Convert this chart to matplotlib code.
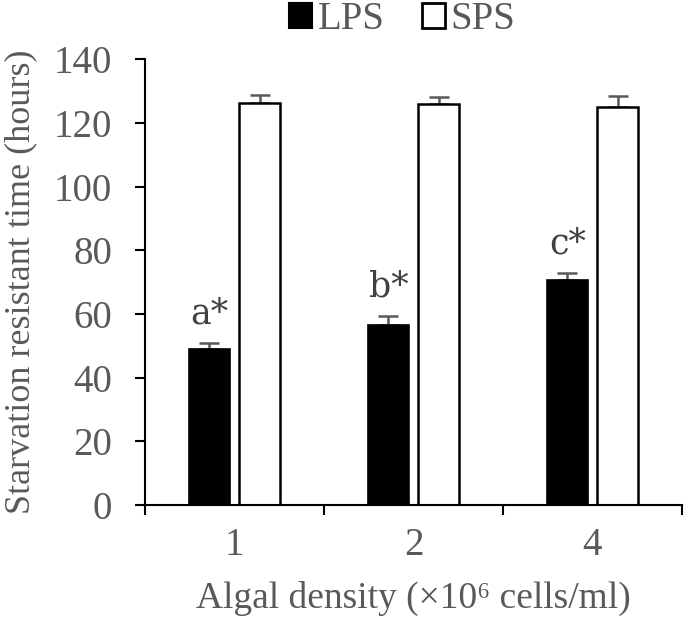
import matplotlib
matplotlib.use("Agg")
import matplotlib.pyplot as plt
import numpy as np
from matplotlib.patches import Patch

categories = ["1", "2", "4"]
lps = [48.9, 56.4, 70.6]
lps_err = [1.9, 2.8, 2.1]
sps = [126.3, 126.0, 124.9]
sps_err = [2.3, 2.1, 3.5]
letters = ["a*", "b*", "c*"]
yticks = [0, 20, 40, 60, 80, 100, 120, 140]

gray = "#595959"
plt.rcParams["font.family"] = ["Liberation Serif", "DejaVu Serif"]

fig = plt.figure(figsize=(6.85, 6.22), dpi=100)
ax = fig.add_axes([0.2117, 0.188, 0.7839, 0.717])

x = np.arange(len(categories))
w = 0.23
off = 0.14
ax.bar(x - off, lps, w, color="black", edgecolor="black", linewidth=1.2, zorder=2)
ax.bar(x + off, sps, w, color="white", edgecolor="black", linewidth=1.8, zorder=2)
ax.errorbar(x - off, lps, yerr=[[0] * 3, lps_err], fmt="none", ecolor=gray,
            elinewidth=1.8, capsize=7, capthick=1.8, zorder=1)
ax.errorbar(x + off, sps, yerr=[[0] * 3, sps_err], fmt="none", ecolor=gray,
            elinewidth=1.8, capsize=7, capthick=1.8, zorder=1)

for xi, v, e, t in zip(x, lps, lps_err, letters):
    ax.text(xi - off, v + e + 4.0, t, ha="center", va="bottom", fontsize=25,
            color="#404040", family=["DejaVu Serif"])

ax.set_xlim(-0.5, 2.5)
ax.set_ylim(0, 140)
ax.set_yticks(yticks)
ax.set_yticklabels([str(t) for t in yticks], fontsize=28, color=gray)
ax.set_xticks([-0.5, 0.5, 1.5, 2.5])
ax.set_xticklabels([])
ax.set_xticks(x, minor=True)
ax.set_xticklabels(categories, minor=True, fontsize=28, color=gray)
ax.tick_params(axis="x", which="minor", length=0, pad=16)
ax.tick_params(axis="x", which="major", direction="out", length=7.2, width=1.5)
ax.tick_params(axis="y", direction="out", length=7.2, width=1.5, pad=16.5)

for s in ["top", "right"]:
    ax.spines[s].set_visible(False)
for s in ["left", "bottom"]:
    ax.spines[s].set_linewidth(1.5)

ax.set_ylabel("Starvation resistant time (hours)", fontsize=26, color=gray, labelpad=12)
ax.set_xlabel("Algal density (×10⁶ cells/ml)", fontsize=27, color=gray, labelpad=12)

handles = [Patch(facecolor="black", edgecolor="black", linewidth=1.5),
           Patch(facecolor="white", edgecolor="black", linewidth=2)]
fig.legend(handles, ["LPS", "SPS"], loc="center", bbox_to_anchor=(0.587, 0.968),
           ncol=2, frameon=False, fontsize=28, handlelength=0.6, handleheight=0.6,
           handletextpad=0.15, columnspacing=0.95, labelcolor=gray,
           borderpad=0.1)

fig.savefig("out.png", dpi=100)
